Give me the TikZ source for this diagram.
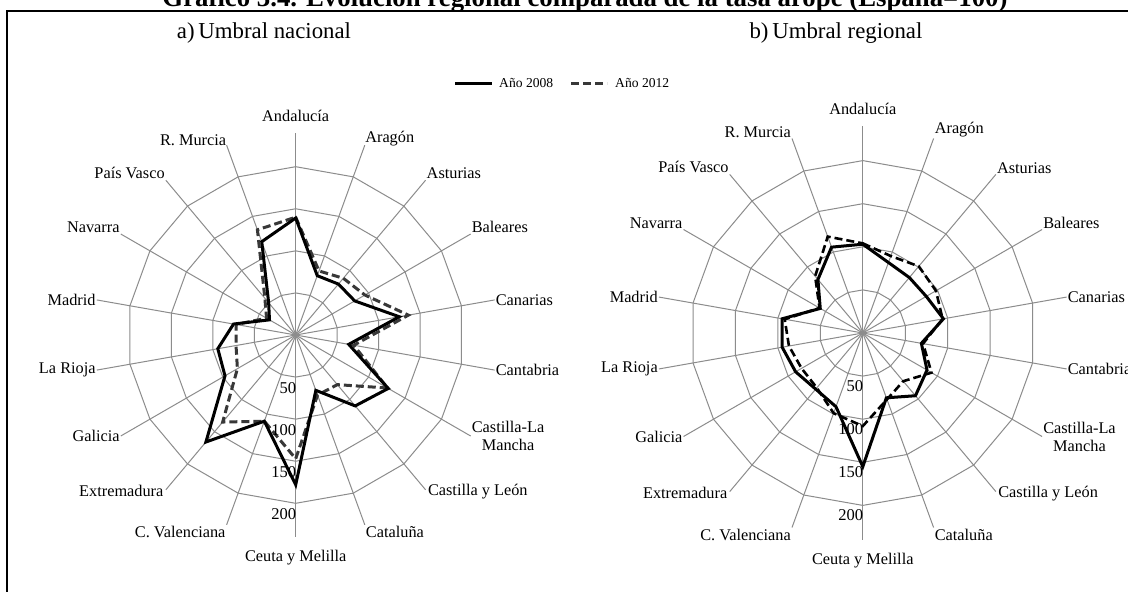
\documentclass[tikz,border=0pt]{standalone}
\usepackage{fontspec}
\setmainfont{Liberation Serif}
\begin{document}
\begin{tikzpicture}[x=1pt,y=-1pt,
  grid/.style={draw=black!45, line width=1pt},
  vaxis/.style={draw=black!45, line width=1.4pt},
  s08/.style={draw=black, line width=3pt, line join=miter},
  s12/.style={draw=black!78, line width=3pt, dash pattern=on 8pt off 4pt, line join=miter},
  s12b/.style={draw=black, line width=2.6pt, dash pattern=on 8pt off 4pt, line join=miter},
  lab/.style={font=\fontsize{16.3}{18}\selectfont, inner sep=1pt},
  tick/.style={font=\fontsize{16.5}{18}\selectfont, inner sep=0pt},
  leg/.style={font=\fontsize{13.6}{15}\selectfont, inner sep=0pt, anchor=west},
  sub/.style={font=\fontsize{22.8}{26}\selectfont, inner sep=0pt},
]
\useasboundingbox (0,0) rectangle (1128,592);
\fill[white] (0,0) rectangle (1128,592);
% title (cut at top)
\node[font=\bfseries\fontsize{26.8}{30}\selectfont, anchor=base, inner sep=0pt] (title) at (585,6) {Gráfico 3.4. Evolución regional comparada de la tasa arope (España=100)};
% frame
\draw[line width=2pt] (6.7,10.5) rectangle (1140,605);
% subtitles
\node[sub] (subA) at (264,33) {a)\,Umbral nacional};
\node[sub] (subB) at (836,33) {b)\,Umbral regional};
% legend
\coordinate (l1a) at (455,83); \coordinate (l1b) at (492,83);
\coordinate (l2a) at (571,83); \coordinate (l2b) at (607,83);
\draw[s08] (l1a) -- (l1b);
\draw[s12] (l2a) -- (l2b);
\node[leg] (leg1) at (499,83) {Año 2008};
\node[leg] (leg2) at (615,83) {Año 2012};

% ---------- chart a ----------
\def\ka{0.8415}
\begin{scope}[shift={(295.7,335)}]
  \foreach \r in {50,100,150,200}
    \draw[grid] (-90:{\r*\ka}) \foreach \i in {1,...,17} { -- ({\i*20-90}:{\r*\ka}) } -- cycle;
  \foreach \i in {1,...,8,10,11,...,17}
    \draw[grid] (0,0) -- ({\i*20-90}:202);
  \draw[vaxis] (0,-202) -- (0,202);
  \draw[s12] (-90:{140*\ka}) \foreach \v [count=\i] in {81,88,95,136,70,126,77,76,147,109,135,80,72,72,40,57,133} { -- ({\i*20-90}:{\v*\ka}) } -- cycle;
  \draw[s08] (-90:{139*\ka}) \foreach \v [count=\i] in {75,79,81,125,64,127,110,70,178,109,166,97,94,75,36,50,118} { -- ({\i*20-90}:{\v*\ka}) } -- cycle;
  \foreach \t in {50,100,150,200}
    \node[tick, anchor=north east] (aT\t) at (0.5,{\t*\ka+5}) {\t};
  \node[lab, anchor=south]      (a0)  at (-90:212) {Andalucía};
  \node[lab, anchor=south west] (a1)  at (-70:200) {Aragón};
  \node[lab, anchor=south west] (a2)  at (-50:202) {Asturias};
  \node[lab, anchor=south west] (a3)  at (-30:202) {Baleares};
  \node[lab, anchor=west]       (a4)  at (-10:202) {Canarias};
  \node[lab, anchor=west]       (a5)  at (10:202) {Cantabria};
  \node[lab, anchor=west, align=center] (a6) at (30:202) {Castilla-La\\Mancha};
  \node[lab, anchor=west]       (a7)  at (50:204) {Castilla y León};
  \node[lab, anchor=north west] (a8)  at (70:202) {Cataluña};
  \node[lab, anchor=north]      (a9)  at (90:214) {Ceuta y Melilla};
  \node[lab, anchor=north east] (a10) at (110:202) {C. Valenciana};
  \node[lab, anchor=east]       (a11) at (130:204) {Extremadura};
  \node[lab, anchor=east]       (a12) at (150:202) {Galicia};
  \node[lab, anchor=east]       (a13) at (170:202) {La Rioja};
  \node[lab, anchor=east]       (a14) at (190:202) {Madrid};
  \node[lab, anchor=south east] (a15) at (210:202) {Navarra};
  \node[lab, anchor=south east] (a16) at (230:202) {País Vasco};
  \node[lab, anchor=south east] (a17) at (250:200) {R. Murcia};
\end{scope}

% ---------- chart b ----------
\def\kb{0.862}
\begin{scope}[shift={(862.8,333)}]
  \foreach \r in {50,100,150,200}
    \draw[grid] (-90:{\r*\kb}) \foreach \i in {1,...,17} { -- ({\i*20-90}:{\r*\kb}) } -- cycle;
  \foreach \i in {0,...,17}
    \draw[grid] (0,0) -- ({\i*20-90}:207);
  \draw[s12b] (-90:{104*\kb}) \foreach \v [count=\i] in {95,101,98,94,71,92,73,82,108,99,83,82,87,92,58,86,119} { -- ({\i*20-90}:{\v*\kb}) } -- cycle;
  \draw[s08] (-90:{103*\kb}) \foreach \v [count=\i] in {87,84,85,95,69,86,95,80,155,91,85,90,95,95,57,81,106} { -- ({\i*20-90}:{\v*\kb}) } -- cycle;
  \foreach \t in {50,100,150,200}
    \node[tick, anchor=north east] (bT\t) at (0.5,{\t*\kb+4}) {\t};
  \node[lab, anchor=south]      (b0)  at (-90:217) {Andalucía};
  \node[lab, anchor=south west] (b1)  at (-70:207) {Aragón};
  \node[lab, anchor=south west] (b2)  at (-50:207) {Asturias};
  \node[lab, anchor=south west] (b3)  at (-30:207) {Baleares};
  \node[lab, anchor=west]       (b4)  at (-10:207) {Canarias};
  \node[lab, anchor=west]       (b5)  at (10:207) {Cantabria};
  \node[lab, anchor=west, align=center] (b6) at (30:207) {Castilla-La\\Mancha};
  \node[lab, anchor=west]       (b7)  at (50:209) {Castilla y León};
  \node[lab, anchor=north west] (b8)  at (70:207) {Cataluña};
  \node[lab, anchor=north]      (b9)  at (90:219) {Ceuta y Melilla};
  \node[lab, anchor=north east] (b10) at (110:207) {C. Valenciana};
  \node[lab, anchor=east]       (b11) at (130:209) {Extremadura};
  \node[lab, anchor=east]       (b12) at (150:207) {Galicia};
  \node[lab, anchor=east]       (b13) at (170:207) {La Rioja};
  \node[lab, anchor=east]       (b14) at (190:207) {Madrid};
  \node[lab, anchor=south east] (b15) at (210:207) {Navarra};
  \node[lab, anchor=south east] (b16) at (230:207) {País Vasco};
  \node[lab, anchor=south east] (b17) at (250:207) {R. Murcia};
\end{scope}
\end{tikzpicture}
\end{document}
